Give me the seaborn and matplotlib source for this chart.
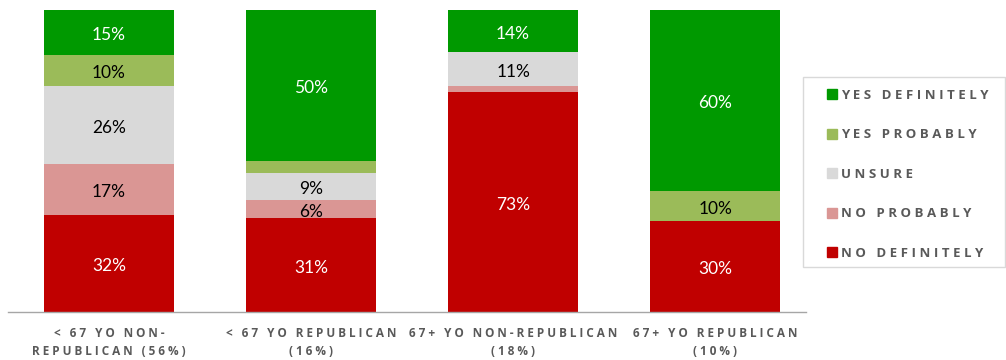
import matplotlib
matplotlib.use("Agg")
import matplotlib.pyplot as plt
import seaborn as sns
import numpy as np
import pandas as pd
from matplotlib.lines import Line2D
from matplotlib.patches import Rectangle

categories = ["< 67 YO NON-\nREPUBLICAN (56%)", "< 67 YO REPUBLICAN\n(16%)",
              "67+ YO NON-REPUBLICAN\n(18%)", "67+ YO REPUBLICAN\n(10%)"]
no_definitely = [32, 31, 73, 30]
no_probably = [17, 6, 2, 0]
unsure = [26, 9, 11, 0]
yes_probably = [10, 4, 0, 10]
yes_definitely = [15, 50, 14, 60]

series_names = ["NO DEFINITELY", "NO PROBABLY", "UNSURE", "YES PROBABLY", "YES DEFINITELY"]
series_values = [no_definitely, no_probably, unsure, yes_probably, yes_definitely]
colors = ["#C00000", "#DA9694", "#D9D9D9", "#9BBB59", "#009900"]
text_colors = ["white", "black", "black", "black", "white"]

sns.set_theme(style="white")
plt.rcParams['font.family'] = ['Lato', 'DejaVu Sans']
label_family = ['Open Sans', 'DejaVu Sans']

def spaced(s):
    return "\n".join(" ".join(list(line)) for line in s.split("\n"))

fig = plt.figure(figsize=(10.06, 3.6), dpi=100)
ax = fig.add_axes([8/1006, 48/360, 798/1006, 302/360])

x_idx = list(range(len(categories)))
bottom = np.zeros(len(categories))
for name, vals, col, tcol in zip(series_names, series_values, colors, text_colors):
    df = pd.DataFrame({"cat": x_idx, "val": vals})
    sns.barplot(data=df, x="cat", y="val", bottom=bottom, color=col,
                width=0.64, ax=ax, native_scale=True, linewidth=0, saturation=1)
    cont = ax.containers[-1]
    labels = [f"{v}%" if v >= 5 else "" for v in vals]
    txts = ax.bar_label(cont, labels=labels, label_type="center", color=tcol,
                        fontsize=12.5)
    for t in txts:
        t.xyann = (0, -2.0)
    bottom = bottom + np.array(vals)

ax.set_xlim(-0.5, 3.45)
ax.set_ylim(0, 100)
ax.set_yticks([])
ax.set_ylabel("")
ax.set_xlabel("")
ax.set_xticks(x_idx)
ax.set_xticklabels([spaced(c) for c in categories], fontsize=8.5,
                   fontweight="bold", color="#595959", linespacing=1.5,
                   family=label_family)
ax.tick_params(axis="x", length=0, pad=11)
for s in ["top", "right", "left"]:
    ax.spines[s].set_visible(False)
ax.spines["bottom"].set_color("#A6A6A6")
ax.spines["bottom"].set_linewidth(1.0)

# legend frame
fig.patches.append(Rectangle((803/1006, (360-267)/360), 202/1006, 190/360,
                             transform=fig.transFigure, fill=False,
                             edgecolor="#D9D9D9", linewidth=1.0))
handles = [Line2D([], [], marker="s", linestyle="", markersize=7,
                  markerfacecolor=c, markeredgecolor=c)
           for c in colors[::-1]]
leg = fig.legend(handles, [spaced(n) for n in series_names[::-1]],
                 loc="upper left", bbox_to_anchor=(825/1006, 1 - 89/360),
                 frameon=False, handletextpad=0.25, handlelength=1.0,
                 labelspacing=2.0, borderaxespad=0, borderpad=0,
                 prop={"size": 9.5, "weight": "bold", "family": label_family})
for t in leg.get_texts():
    t.set_color("#595959")

fig.savefig("out.png", dpi=100)
